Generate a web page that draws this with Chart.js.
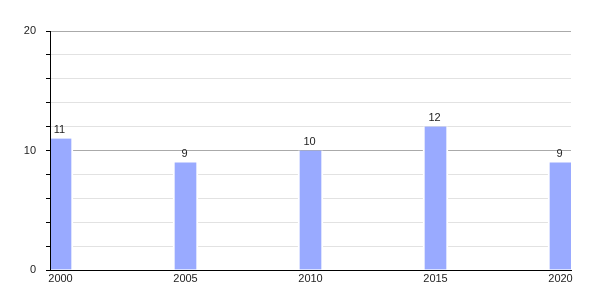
<!DOCTYPE html>
<html>
<head>
<meta charset="utf-8">
<script src="https://cdn.jsdelivr.net/npm/chart.js@4"></script>
<style>
  html, body { margin: 0; padding: 0; background: #fff; }
  #wrap { width: 600px; height: 300px; }
</style>
</head>
<body>
<div id="wrap"><canvas id="chart"></canvas></div>
<script>
const years = [2000, 2005, 2010, 2015, 2020];
const values = [11, 9, 10, 12, 9];
const xTicks = [2000, 2005, 2010, 2015, 2020];
const yMajor = [0, 10, 20];

// value labels above each bar
const barLabels = {
  id: 'barLabels',
  afterDatasetsDraw(chart) {
    const ctx = chart.ctx;
    // bars carry a white edge, so put the axis lines back on top
    chart.scales.y.drawBorder();
    chart.scales.x.drawBorder();
    ctx.save();
    ctx.font = '11px "Liberation Sans", Arial, sans-serif';
    ctx.fillStyle = '#222';
    ctx.textAlign = 'center';
    ctx.textBaseline = 'bottom';
    chart.getDatasetMeta(0).data.forEach((bar, i) => {
      ctx.fillText(String(values[i]), bar.x - 1, bar.y - 3);
    });
    ctx.restore();
  }
};

new Chart(document.getElementById('chart'), {
  type: 'bar',
  data: {
    datasets: [{
      data: years.map((y, i) => ({ x: y, y: values[i] })),
      backgroundColor: '#99aaff',
      borderColor: '#ffffff',
      borderWidth: { top: 0, left: 2, right: 2, bottom: 0 },
      borderSkipped: 'bottom',
      barThickness: 25
    }]
  },
  options: {
    responsive: true,
    maintainAspectRatio: false,
    animation: false,
    layout: { padding: { left: 0, right: 29, top: 31, bottom: 0 } },
    plugins: {
      legend: { display: false },
      tooltip: { enabled: false }
    },
    scales: {
      x: {
        type: 'linear',
        offset: false,
        min: 1999.58,
        max: 2020.42,
        afterBuildTicks: scale => { scale.ticks = xTicks.map(v => ({ value: v })); },
        afterFit: scale => { scale.height = 30; },
        grid: { display: false, offset: false, drawTicks: false },
        border: { display: true, color: '#000', width: 1 },
        ticks: {
          padding: 2,
          maxRotation: 0,
          autoSkip: false,
          color: '#222',
          font: { family: '"Liberation Sans", Arial, sans-serif', size: 11 },
          callback: v => String(v)
        }
      },
      y: {
        min: 0,
        max: 20,
        afterFit: scale => { scale.width = 50; },
        grid: {
          color: ctx => (ctx.tick && yMajor.includes(ctx.tick.value)) ? '#aaaaaa' : '#e2e2e2',
          tickColor: '#000',
          tickLength: 4
        },
        border: { display: true, color: '#000', width: 1 },
        ticks: {
          stepSize: 2,
          padding: 10,
          color: '#222',
          font: { family: '"Liberation Sans", Arial, sans-serif', size: 11 },
          callback: v => yMajor.includes(v) ? String(v) : ''
        }
      }
    }
  },
  plugins: [barLabels]
});
</script>
</body>
</html>
